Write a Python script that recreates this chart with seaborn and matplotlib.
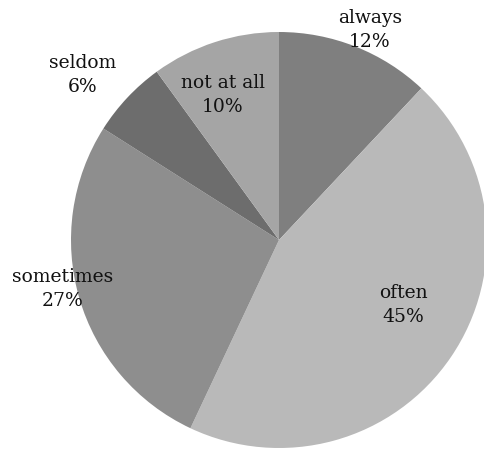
import matplotlib
matplotlib.use("Agg")
import matplotlib.pyplot as plt
import seaborn as sns

categories = ["always", "often", "sometimes", "seldom", "not at all"]
values = [12, 45, 27, 6, 10]
colors = ["#7f7f7f", "#b9b9b9", "#8e8e8e", "#6d6d6d", "#a5a5a5"]
# label positions (pixels in the 485x459 image, from top-left)
label_px = [(370, 30), (403, 305), (63, 289), (83, 75), (223, 95)]

sns.set_theme(style="white")
plt.rcParams["font.family"] = ["DejaVu Serif"]

W, H = 485, 459
cx, cy, R = 279, 240, 208

fig = plt.figure(figsize=(W / 100, H / 100), dpi=100)
ax = fig.add_axes([0, 0, 1, 1])
ax.pie(values, colors=colors, startangle=90, counterclock=False,
       wedgeprops=dict(linewidth=0))
ax.set_xlim(-cx / R, (W - cx) / R)
ax.set_ylim(-(H - cy) / R, cy / R)
ax.set_aspect("equal")
ax.axis("off")

for cat, v, (px, py) in zip(categories, values, label_px):
    x = (px - cx) / R
    y = (cy - py) / R
    ax.text(x, y, f"{cat}\n{v}%", ha="center", va="center",
            fontsize=13.5, color="#111111", linespacing=1.45)

fig.savefig("out.png", dpi=100)
